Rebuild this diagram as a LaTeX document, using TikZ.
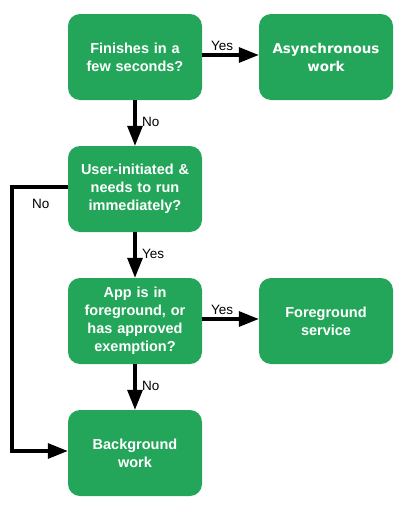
\documentclass[tikz,border=0pt]{standalone}
\usepackage{fontspec}
\setmainfont{Liberation Sans}
\newfontfamily\dejavu{DejaVu Sans}
\usetikzlibrary{arrows.meta}
\definecolor{boxgreen}{HTML}{23A65A}
\tikzset{
  box/.style={fill=boxgreen, rounded corners=12pt, minimum width=134pt, minimum height=86pt,
    inner sep=2pt, text=white, font=\bfseries\fontsize{14.5}{18}\selectfont, align=center, text width=130pt},
  conn/.style={line width=3.2pt, -{Triangle[length=20pt,width=15pt]}},
  lbl/.style={font=\fontsize{13.5}{15}\selectfont, inner sep=1pt}
}
\begin{document}
\begin{tikzpicture}[x=1pt,y=-1pt]
\useasboundingbox (0,0) rectangle (407,506);
\node[box] (q1) at (135,57) {Finishes in a\\few seconds?};
\node[box, font=\dejavu\bfseries\fontsize{13.5}{18}\selectfont] (async) at (326,57) {Asynchronous\\work};
\node[box] (q2) at (135,189) {User-initiated \&\\needs to run\\immediately?};
\node[box] (q3) at (135,321) {App is in\\foreground, or\\has approved\\exemption?};
\node[box] (fg) at (326,321) {Foreground\\service\\[14pt]};
\node[box] (bg) at (135,453) {Background\\work};
\coordinate (c1) at (12,187);
\coordinate (c2) at (12,451);
\draw[conn] (q1.east |- 0,55) -- (async.west |- 0,55);
\draw[conn] (q1) -- (q2);
\draw[conn] (q2) -- (q3);
\draw[conn] (q3.east |- 0,319) -- (fg.west |- 0,319);
\draw[conn] (q3) -- (bg);
\draw[conn, rounded corners=0pt] (q2.west |- c1) -- (c1) -- (c2) -- (bg.west |- c2);
\node[lbl, anchor=west] (l1) at (210,46) {Yes};
\node[lbl, anchor=west] (l2) at (141,122) {No};
\node[lbl, anchor=west] (l3) at (31,204) {No};
\node[lbl, anchor=west] (l4) at (141,254) {Yes};
\node[lbl, anchor=west] (l5) at (210,310) {Yes};
\node[lbl, anchor=west] (l6) at (141,386) {No};
\end{tikzpicture}
\end{document}
